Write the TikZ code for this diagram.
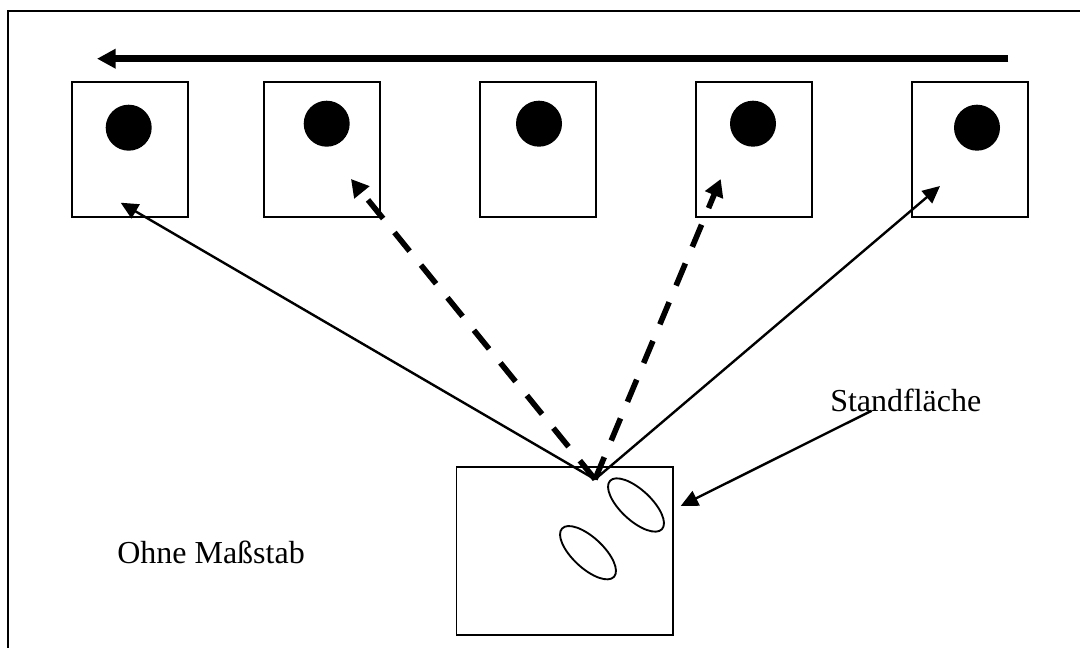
\documentclass[tikz,border=0pt]{standalone}
\usepackage{fontspec}
\setmainfont{Liberation Serif}
\usetikzlibrary{arrows.meta,shapes.geometric}
\tikzset{
  x=0.75pt,y=-0.75pt,
  frameline/.style={line width=1.7pt},
  box/.style={draw=black,line width=1.4pt},
  dot/.style={circle,fill=black,minimum size=34.5pt,inner sep=0pt},
  thin arrow/.style={line width=1.8pt,-{Triangle[length=13pt,width=12pt]}},
  dash arrow/.style={line width=4.2pt,dash pattern=on 18pt off 13.5pt,-{Triangle[length=13pt,width=14pt]}},
  heavy arrow/.style={line width=4.8pt,-{Triangle[length=14pt,width=14pt]}},
  oval/.style={draw=black,line width=1.4pt},
  lbl/.style={font=\fontsize{24pt}{28pt}\selectfont,inner sep=0pt,anchor=base west}
}
\begin{document}
\begin{tikzpicture}
\useasboundingbox (0,0) rectangle (1080,648);
\fill[white] (0,0) rectangle (1080,648);
\draw[frameline] (8,648) -- (8,10.7) -- (1080,10.7);
% boxes
\draw[box] (72,82.3) rectangle (188,217.3);
\draw[box] (264.3,82.3) rectangle (380,217.3);
\draw[box] (480,82.3) rectangle (596,217.3);
\draw[box] (696,82.3) rectangle (812,217.3);
\draw[box] (912.3,82.3) rectangle (1028.3,216.7);
\draw[box] (456.5,466.7) rectangle (672.7,635);
\node[dot] (d1) at (128.7,127.7) {};
\node[dot] (d2) at (326.7,123.7) {};
\node[dot] (d3) at (539,123.7) {};
\node[dot] (d4) at (753,123.7) {};
\node[dot] (d5) at (977,127.7) {};
\coordinate (apex) at (595,479.3);
\coordinate (t1) at (120.7,202.7);
\coordinate (t2) at (351,179);
\coordinate (t4) at (720.7,179);
\coordinate (t5) at (940,186);
\draw[thin arrow] (apex) -- (t1);
\draw[thin arrow] (apex) -- (t5);
\draw[dash arrow] (apex) -- (t2);
\draw[dash arrow] (apex) -- (t4);
\coordinate (hs) at (1008.3,58.7);
\coordinate (he) at (97,58.7);
\draw[heavy arrow] (hs) -- (he);
\draw[oval] (636,505) ellipse [x radius=26.6pt,y radius=11.5pt,rotate=-43];
\draw[oval] (588,552.7) ellipse [x radius=26.6pt,y radius=11.5pt,rotate=-43];
\node[lbl] (st) at (830,411.5) {Standfläche};
\node[lbl] (om) at (117,563) {Ohne Maßstab};
\coordinate (sa) at (871.7,410.7);
\coordinate (sb) at (680.7,506);
\draw[thin arrow] (sa) -- (sb);
\end{tikzpicture}
\end{document}
